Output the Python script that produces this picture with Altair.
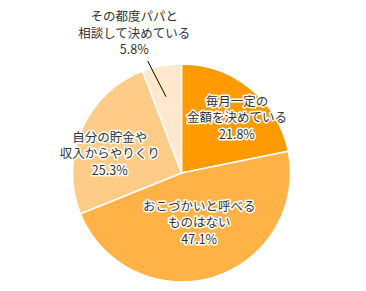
import altair as alt
import pandas as pd
import math

categories = ["毎月一定の\n金額を決めている", "おこづかいと呼べる\nものはない", "自分の貯金や\n収入からやりくり", "その都度パパと\n相談して決めている"]
values = [21.8, 47.1, 25.3, 5.8]
colors = ["#FF9A00", "#FFB347", "#FFCC88", "#FFE8CC"]

df = pd.DataFrame({
    "cat": categories,
    "value": values,
    "order": list(range(len(values))),
})
df["label"] = df["cat"] + "\n" + df["value"].map(lambda v: f"{v:.1f}%")

CX, CY = 173.5, 165
FONT = "Noto Sans CJK JP"
theta_scale = alt.Scale(domain=[0, 100], range=[0, 2 * math.pi])

base = alt.Chart(df).transform_window(
    cum="sum(value)", sort=[alt.SortField("order")], frame=[None, 0]
).transform_calculate(
    start="datum.cum - datum.value", mid="datum.cum - datum.value / 2"
).encode(
    x=alt.value(CX),
    y=alt.value(CY),
)

arc = base.mark_arc(outerRadius=109, stroke="white", strokeWidth=1.5).encode(
    theta=alt.Theta("start:Q", scale=theta_scale, stack=None),
    theta2="cum:Q",
    color=alt.Color("cat:N", scale=alt.Scale(domain=categories, range=colors), legend=None),
)

label_specs = [
    (0, 75, 8, -13),
    (1, 51, 3, -15),
    (2, 75, -3, -5),
    (3, 145, -21, -13),
]

layers = [arc]
for idx, r, dx, dy in label_specs:
    common = dict(radius=r, dx=dx, dy=dy, font=FONT, fontSize=12.5,
                  lineBreak="\n", lineHeight=16.5, align="center", baseline="middle")
    enc = dict(theta=alt.Theta("mid:Q", scale=theta_scale, stack=None), text="label:N")
    halo = base.mark_text(stroke="white", strokeWidth=3, strokeJoin="round", fill="white", **common).encode(
        **enc).transform_filter(alt.datum.order == idx)
    txt = base.mark_text(fill="#333333", **common).encode(
        **enc).transform_filter(alt.datum.order == idx)
    if idx == 3:
        layers.append(txt)
    else:
        layers.extend([halo, txt])

leader = alt.Chart(pd.DataFrame({"a": [0]})).mark_rule(color="#000000", strokeWidth=1).encode(
    x=alt.value(139.7), y=alt.value(53), x2=alt.value(158), y2=alt.value(88.7))
layers.append(leader)

chart = alt.layer(*layers).properties(
    width=350, height=275, padding=0, autosize="none"
).configure_view(stroke=None)

chart.save("out.html", embed_options={"renderer": "svg", "actions": False})
